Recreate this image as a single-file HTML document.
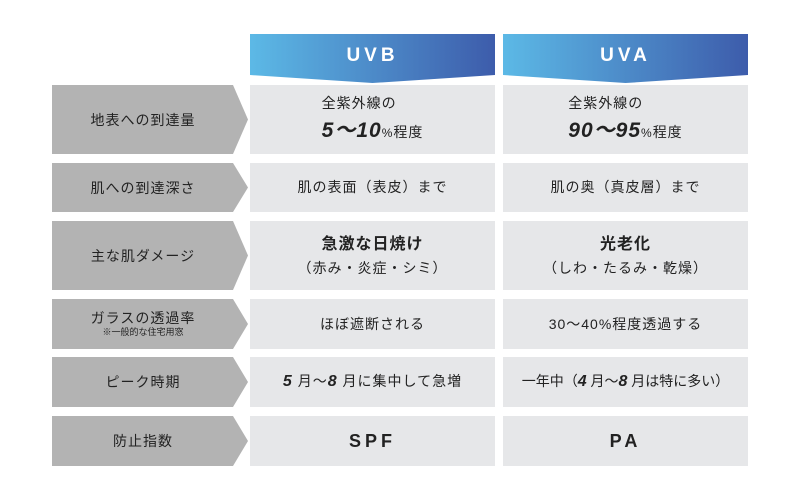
<!DOCTYPE html>
<html><head><meta charset="utf-8"><style>
body{margin:0;width:800px;height:500px;background:#fff;position:relative;overflow:hidden;font-family:"Liberation Sans","Noto Sans CJK JP",sans-serif;color:#222}
.l{position:absolute;left:52px;width:196px;background:#b3b3b3;clip-path:polygon(0 0,181px 0,196px 50%,181px 100%,0 100%);display:flex;flex-direction:column;align-items:center;justify-content:center;font-size:14px;letter-spacing:1px;padding-right:14px;box-sizing:border-box}
.c{position:absolute;width:245px;background:#e6e7e9;display:flex;flex-direction:column;align-items:center;justify-content:center;font-size:14px;letter-spacing:1px;text-align:center;line-height:1.6}
.a{left:250px}.b{left:503px}
.h{position:absolute;top:34px;width:245px;height:49px;background:linear-gradient(90deg,#5cb9e6,#3d5cab);clip-path:polygon(0 0,100% 0,100% 41px,50% 49px,0 41px);color:#fff;font-size:19px;font-weight:bold;letter-spacing:4px;text-align:center;line-height:43px}
b{font-weight:bold}
i.n{font-style:italic;font-weight:bold;font-size:21px}
.lb{text-align:left}
</style></head><body>
<div class="h a">UVB</div><div class="h b">UVA</div>

<div class="l" style="top:85px;height:69px">地表への到達量</div>
<div class="c a" style="top:85px;height:69px"><div class="lb"><div>全紫外線の</div><div><i class="n">5～10</i><span style="font-size:12px">%</span>程度</div></div></div>
<div class="c b" style="top:85px;height:69px"><div class="lb"><div>全紫外線の</div><div><i class="n">90～95</i><span style="font-size:12px">%</span>程度</div></div></div>

<div class="l" style="top:163px;height:49px">肌への到達深さ</div>
<div class="c a" style="top:163px;height:49px">肌の表面（表皮）まで</div>
<div class="c b" style="top:163px;height:49px">肌の奥（真皮層）まで</div>

<div class="l" style="top:221px;height:69px">主な肌ダメージ</div>
<div class="c a" style="top:221px;height:69px"><b style="font-size:16px">急激な日焼け</b><div>（赤み・炎症・シミ）</div></div>
<div class="c b" style="top:221px;height:69px"><b style="font-size:16px">光老化</b><div>（しわ・たるみ・乾燥）</div></div>

<div class="l" style="top:299px;height:50px;line-height:1.2">ガラスの透過率<span style="font-size:9px;letter-spacing:0">※一般的な住宅用窓</span></div>
<div class="c a" style="top:299px;height:50px">ほぼ遮断される</div>
<div class="c b" style="top:299px;height:50px">30～40%程度透過する</div>

<div class="l" style="top:357px;height:50px">ピーク時期</div>
<div class="c a" style="top:357px;height:50px"><div><i class="n" style="font-size:16px">5</i> 月～<i class="n" style="font-size:16px">8</i> 月に集中して急増</div></div>
<div class="c b" style="top:357px;height:50px;letter-spacing:0"><div>一年中（<i class="n" style="font-size:16px">4</i> 月～<i class="n" style="font-size:16px">8</i> 月は特に多い）</div></div>

<div class="l" style="top:416px;height:50px">防止指数</div>
<div class="c a" style="top:416px;height:50px"><b style="font-size:18px;letter-spacing:4px">SPF</b></div>
<div class="c b" style="top:416px;height:50px"><b style="font-size:18px;letter-spacing:4px">PA</b></div>
</body></html>
